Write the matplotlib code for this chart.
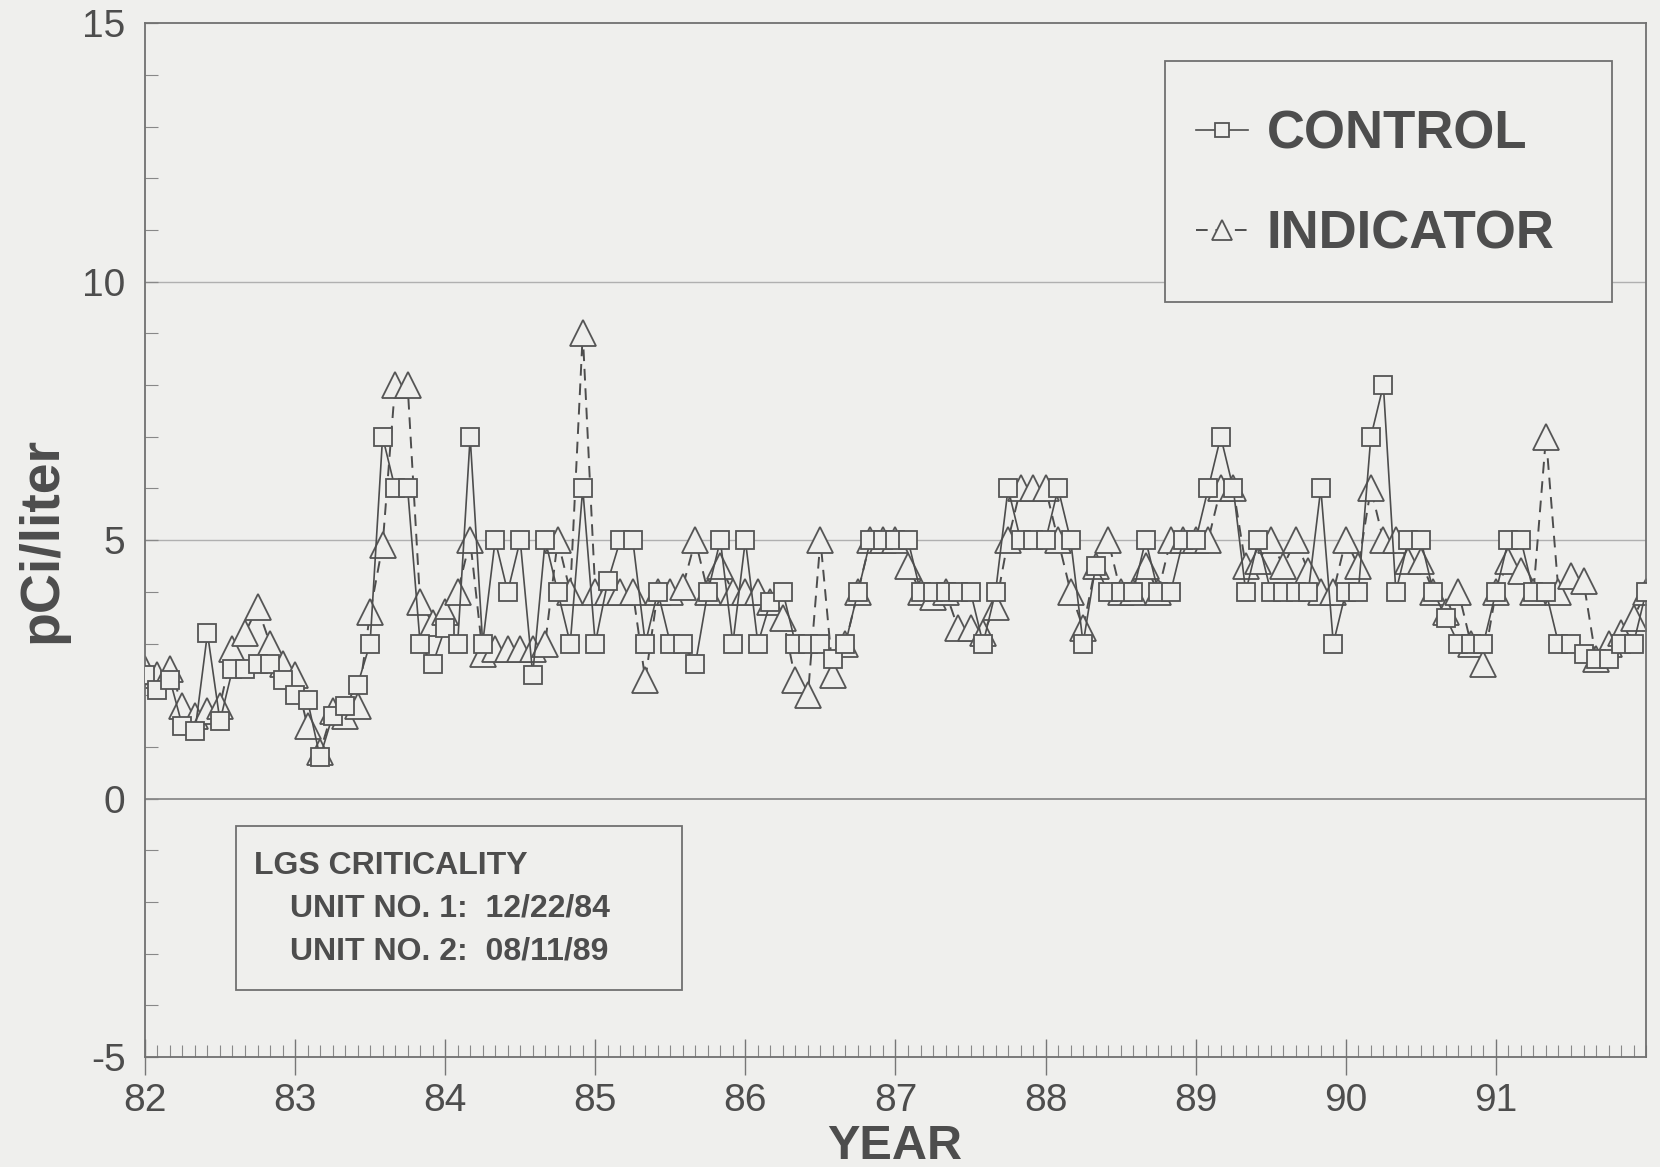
import numpy as np
import matplotlib
matplotlib.use("Agg")
import matplotlib.pyplot as plt
from matplotlib.ticker import MultipleLocator
from matplotlib.patches import Rectangle

plt.rcParams['font.family'] = ['Liberation Sans', 'DejaVu Sans']
plt.rcParams['axes.unicode_minus'] = False

# monthly readings, Jan 1982 .. Jan 1992 (pCi/liter)
control = [
    2.4, 2.1, 2.3, 1.4, 1.3, 3.2, 1.5, 2.5, 2.5, 2.6, 2.6, 2.3,   # 82
    2.0, 1.9, 0.8, 1.6, 1.8, 2.2, 3.0, 7.0, 6.0, 6.0, 3.0, 2.6,   # 83
    3.3, 3.0, 7.0, 3.0, 5.0, 4.0, 5.0, 2.4, 5.0, 4.0, 3.0, 6.0,   # 84
    3.0, 4.2, 5.0, 5.0, 3.0, 4.0, 3.0, 3.0, 2.6, 4.0, 5.0, 3.0,   # 85
    5.0, 3.0, 3.8, 4.0, 3.0, 3.0, 3.0, 2.7, 3.0, 4.0, 5.0, 5.0,   # 86
    5.0, 5.0, 4.0, 4.0, 4.0, 4.0, 4.0, 3.0, 4.0, 6.0, 5.0, 5.0,   # 87
    5.0, 6.0, 5.0, 3.0, 4.5, 4.0, 4.0, 4.0, 5.0, 4.0, 4.0, 5.0,   # 88
    5.0, 6.0, 7.0, 6.0, 4.0, 5.0, 4.0, 4.0, 4.0, 4.0, 6.0, 3.0,   # 89
    4.0, 4.0, 7.0, 8.0, 4.0, 5.0, 5.0, 4.0, 3.5, 3.0, 3.0, 3.0,   # 90
    4.0, 5.0, 5.0, 4.0, 4.0, 3.0, 3.0, 2.8, 2.7, 2.7, 3.0, 3.0,   # 91
    4.0,
]
indicator = [
    2.5, 2.4, 2.5, 1.8, 1.6, 1.7, 1.8, 2.9, 3.2, 3.7, 3.0, 2.6,   # 82
    2.4, 1.4, 0.9, 1.7, 1.6, 1.8, 3.6, 4.9, 8.0, 8.0, 3.8, 3.4,   # 83
    3.6, 4.0, 5.0, 2.8, 2.9, 2.9, 2.9, 2.9, 3.0, 5.0, 4.0, 9.0,   # 84
    4.0, 4.0, 4.0, 4.0, 2.3, 4.0, 4.0, 4.1, 5.0, 4.0, 4.5, 4.0,   # 85
    4.0, 4.0, 3.8, 3.5, 2.3, 2.0, 5.0, 2.4, 3.0, 4.0, 5.0, 5.0,   # 86
    5.0, 4.5, 4.0, 3.9, 4.0, 3.3, 3.3, 3.2, 3.7, 5.0, 6.0, 6.0,   # 87
    6.0, 5.0, 4.0, 3.3, 4.5, 5.0, 4.0, 4.0, 4.5, 4.0, 5.0, 5.0,   # 88
    5.0, 5.0, 6.0, 6.0, 4.5, 4.6, 5.0, 4.5, 5.0, 4.4, 4.0, 4.0,   # 89
    5.0, 4.5, 6.0, 5.0, 5.0, 4.6, 4.6, 4.0, 3.6, 4.0, 3.0, 2.6,   # 90
    4.0, 4.6, 4.4, 4.0, 7.0, 4.0, 4.3, 4.2, 2.7, 3.0, 3.2, 3.5,   # 91
    4.0,
]
year_labels = ['82', '83', '84', '85', '86', '87', '88', '89', '90', '91']
y_ticks = [-5, 0, 5, 10, 15]

months = np.arange(len(control))
x = 82 + months / 12.0

paper = '#efefed'
ink = '#4d4d4d'

fig = plt.figure(figsize=(16.6, 11.67), dpi=100, facecolor=paper)
ax = fig.add_axes([0.0873, 0.0943, 0.9043, 0.8857], facecolor=paper)

for yv in [5, 10]:
    ax.axhline(yv, color='#b0b0b0', lw=1.0, zorder=1)
ax.axhline(0, color='#8a8a8a', lw=1.3, zorder=1)

ax.plot(x, control, color=ink, lw=1.2, marker='s', ms=13,
        mfc=paper, mec='#555555', mew=1.3, zorder=3, label='CONTROL')
ax.plot(x, indicator, color=ink, lw=1.4, ls=(0, (6, 4)), marker='^', ms=19,
        mfc=paper, mec='#555555', mew=1.3, zorder=2, label='INDICATOR')

ax.set_xlim(82, 92)
ax.set_ylim(-5, 15)
ax.set_xticks(np.arange(82, 92))
ax.set_xticklabels(year_labels)
ax.xaxis.set_minor_locator(MultipleLocator(1 / 12.0))
ax.set_yticks(y_ticks)
ax.yaxis.set_minor_locator(MultipleLocator(1))

ax.tick_params(axis='x', which='major', direction='inout', length=26, width=1.0,
               color='#777777', labelsize=28, labelcolor=ink, pad=6)
ax.tick_params(axis='x', which='minor', direction='in', length=9, width=0.8,
               color='#888888')
ax.tick_params(axis='y', which='major', direction='in', length=9, width=0.9,
               color='#888888', labelsize=28, labelcolor=ink, pad=14)
ax.tick_params(axis='y', which='minor', direction='in', length=9, width=0.8,
               color='#888888')

for side in ['left', 'right', 'top', 'bottom']:
    ax.spines[side].set_color('#707070')
    ax.spines[side].set_linewidth(1.3)

fig.text(0.0253, 0.537, 'pCi/liter', rotation=90, ha='center', va='center',
         fontsize=40, fontweight='bold', color=ink)
fig.text(0.539, 0.007, 'YEAR', ha='center', va='baseline',
         fontsize=35, fontweight='bold', color=ink)

# legend box drawn separately so the padding can be wide vertically
ax.add_patch(Rectangle((0.6796, 0.730), 0.2977, 0.234, transform=ax.transAxes,
                       facecolor=paper, edgecolor='#707070', lw=1.3, zorder=6))
leg = ax.legend(loc='center left', bbox_to_anchor=(0.700, 0.844),
                prop={'weight': 'bold', 'size': 38},
                handlelength=1.0, handletextpad=0.34, labelspacing=0.96,
                borderpad=0, borderaxespad=0, frameon=False,
                markerscale=0.75)
leg.set_zorder(7)
for t in leg.get_texts():
    t.set_color(ink)

ax.add_patch(Rectangle((0.0606, 0.0648), 0.2972, 0.1586, transform=ax.transAxes,
                       fill=False, edgecolor='#707070', lw=1.3, zorder=5))
ax.text(0.0726, 0.1847, 'LGS CRITICALITY', transform=ax.transAxes,
        fontsize=23, fontweight='bold', color=ink, va='center', ha='left')
ax.text(0.0966, 0.1441, 'UNIT NO. 1:  12/22/84', transform=ax.transAxes,
        fontsize=23, fontweight='bold', color=ink, va='center', ha='left')
ax.text(0.0966, 0.1025, 'UNIT NO. 2:  08/11/89', transform=ax.transAxes,
        fontsize=23, fontweight='bold', color=ink, va='center', ha='left')

fig.savefig('out.png', dpi=100, facecolor=paper)
